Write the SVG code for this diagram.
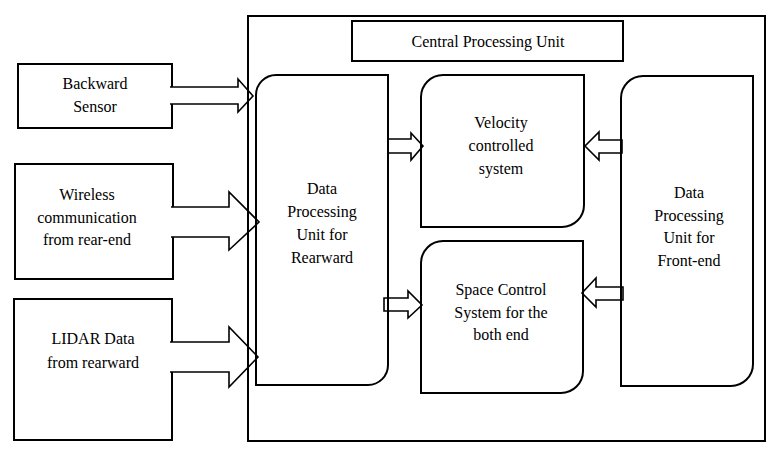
<svg xmlns="http://www.w3.org/2000/svg" width="784" height="453" viewBox="0 0 784 453" font-family="Liberation Serif, Times New Roman, DejaVu Serif, serif" font-size="16">
<style>
.box{fill:#fff;stroke:#000;stroke-width:2}
.frame{fill:none;stroke:#000;stroke-width:2}
.arr{fill:#fff;stroke:#000;stroke-width:1.6;stroke-linejoin:miter}
.t{fill:#000;text-anchor:middle}
</style>
<rect width="784" height="453" fill="#fff"/>
<g id="backward-sensor">
<rect class="box" x="18" y="64" width="154" height="64"/>
<text class="t" x="95" y="89">Backward</text><text class="t" x="95" y="112">Sensor</text>
</g>
<g id="wireless">
<rect class="box" x="15" y="164" width="158" height="115"/>
<text class="t" x="87" y="200">Wireless</text><text class="t" x="87" y="223">communication</text><text class="t" x="87" y="245">from rear-end</text>
</g>
<g id="lidar">
<rect class="box" x="14" y="299" width="158" height="141"/>
<text class="t" x="93" y="344">LIDAR Data</text><text class="t" x="93" y="368">from rearward</text>
</g>
<g id="connectors">
<path class="arr" d="M170,87 H238 V79 L253,96 L238,112 V104 H170"/>
<path class="arr" d="M171,207 H229 V192 L259,222 L229,250 V237 H171"/>
<path class="arr" d="M170,342 H229 V327 L258,357 L229,387 V372 H170"/>
<path class="arr" d="M388,139 H411 V133 L423,146 L411,160 V153 H388 Z"/>
<path class="arr" d="M384,298 H408 V291 L422,305 L408,318 V311 H384 Z"/>
<path class="arr" d="M622,140 H599 V132 L585,146 L599,160 V153 H622 Z"/>
<path class="arr" d="M623,287 H596 V278 L582,293 L596,307 V300 H623 Z"/>
</g>
<g id="cpu-frame">
<rect class="frame" x="248" y="16" width="517" height="425"/>
</g>
<g id="cpu-title">
<rect class="box" x="352" y="21" width="271" height="40"/>
<text class="t" x="488" y="47">Central Processing Unit</text>
</g>
<g id="dpu-rear">
<path class="frame" d="M256,385 V95 A20,20 0 0 1 276,75 H388 V365 A20,20 0 0 1 368,385 Z"/>
<text class="t" x="322" y="194">Data</text><text class="t" x="322" y="217">Processing</text><text class="t" x="322" y="240">Unit for</text><text class="t" x="322" y="263">Rearward</text>
</g>
<g id="velocity">
<path class="frame" d="M421,227 V97 A22,22 0 0 1 443,75 H584 V205 A22,22 0 0 1 562,227 Z"/>
<text class="t" x="501" y="128">Velocity</text><text class="t" x="501" y="151">controlled</text><text class="t" x="501" y="174">system</text>
</g>
<g id="space-control">
<path class="frame" d="M421,393 V263 A22,22 0 0 1 443,241 H583 V371 A22,22 0 0 1 561,393 Z"/>
<text class="t" x="501" y="295">Space Control</text><text class="t" x="501" y="318">System for the</text><text class="t" x="501" y="340">both end</text>
</g>
<g id="dpu-front">
<path class="frame" d="M621,386 V98 A22,22 0 0 1 643,76 H753 V364 A22,22 0 0 1 731,386 Z"/>
<text class="t" x="689" y="198">Data</text><text class="t" x="689" y="221">Processing</text><text class="t" x="689" y="243">Unit for</text><text class="t" x="689" y="266">Front-end</text>
</g>
</svg>
